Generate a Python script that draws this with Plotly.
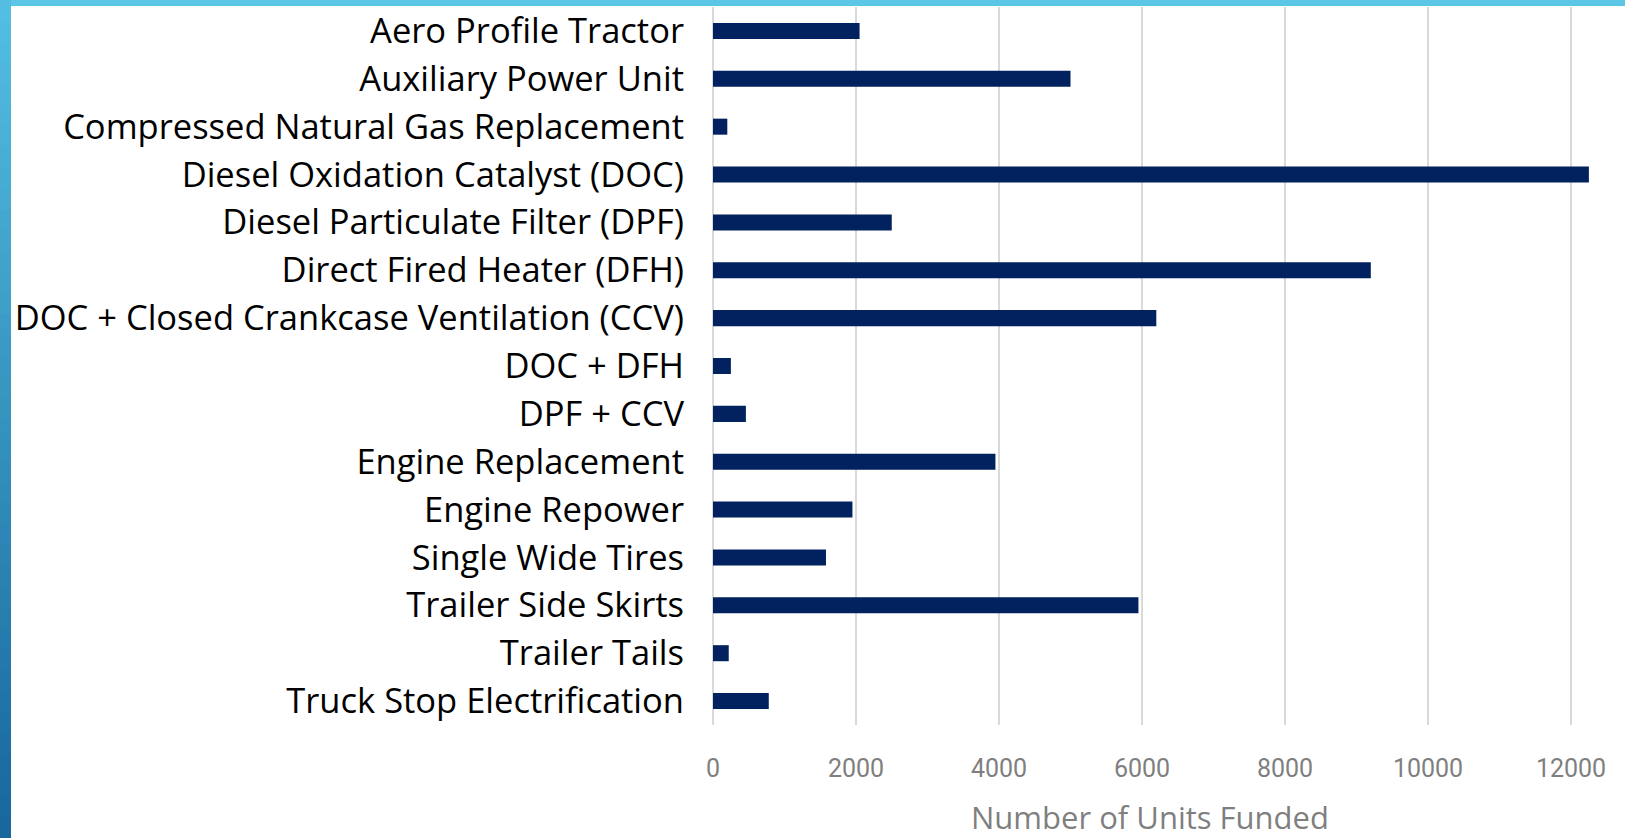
import plotly.graph_objects as go

# data
measures = [
    "Aero Profile Tractor",
    "Auxiliary Power Unit",
    "Compressed Natural Gas Replacement",
    "Diesel Oxidation Catalyst (DOC)",
    "Diesel Particulate Filter (DPF)",
    "Direct Fired Heater (DFH)",
    "DOC + Closed Crankcase Ventilation (CCV)",
    "DOC + DFH",
    "DPF + CCV",
    "Engine Replacement",
    "Engine Repower",
    "Single Wide Tires",
    "Trailer Side Skirts",
    "Trailer Tails",
    "Truck Stop Electrification",
]
units_funded = [2050, 5000, 200, 12250, 2500, 9200, 6200, 250, 460,
                3950, 1950, 1580, 5950, 220, 780]
x_ticks = [0, 2000, 4000, 6000, 8000, 10000, 12000]
x_title = "Number of Units Funded"

W, H = 1625, 838
L, R, T, B = 713, 0, 7, 113

fig = go.Figure(go.Bar(
    x=units_funded,
    y=measures,
    orientation="h",
    marker=dict(color="#02215f", line=dict(width=0)),
))

# slide frame: light blue band on top, gradient band on the left
pw, ph = W - L - R, H - T - B
def px_x(p):
    return (p - L) / pw
def px_y(p):
    return (H - B - p) / ph

shapes = [dict(type="rect", xref="paper", yref="paper",
               x0=px_x(0), x1=px_x(W), y0=px_y(0), y1=px_y(6),
               fillcolor="#5cc6e6", line_width=0, layer="above")]
top_rgb, bot_rgb = (84, 190, 226), (24, 104, 156)
n = 40
for i in range(n):
    t = i / (n - 1)
    c = tuple(int(a + (b - a) * t) for a, b in zip(top_rgb, bot_rgb))
    shapes.append(dict(type="rect", xref="paper", yref="paper",
                       x0=px_x(0), x1=px_x(11),
                       y0=px_y(H * i / n), y1=px_y(H * (i + 1) / n + 1),
                       fillcolor="rgb(%d,%d,%d)" % c, line_width=0, layer="above"))

fig.update_layout(
    width=W, height=H,
    margin=dict(l=L, r=R, t=T, b=B, pad=0),
    paper_bgcolor="white", plot_bgcolor="white",
    showlegend=False,
    bargap=0.665,
    shapes=shapes,
    font=dict(family="Open Sans, sans-serif"),
    annotations=[dict(
        text=x_title, xref="paper", yref="paper",
        x=px_x(1150), y=px_y(817), xanchor="center", yanchor="middle",
        showarrow=False,
        font=dict(family="Open Sans, sans-serif", size=31, color="#7f7f7f"),
    )],
)
fig.update_xaxes(
    range=[0, 12755],
    tickvals=x_ticks,
    ticktext=[str(v) for v in x_ticks],
    showgrid=True, gridcolor="#d9d9d9", gridwidth=1.5,
    zeroline=True, zerolinecolor="#d9d9d9", zerolinewidth=1.5,
    showline=False,
    ticks="", ticklabelstandoff=26,
    tickfont=dict(family="Roboto, sans-serif", size=25, color="#7f7f7f"),
)
fig.update_yaxes(
    autorange="reversed",
    showgrid=False, showline=False, ticks="",
    ticklabelstandoff=28,
    tickfont=dict(family="Open Sans, sans-serif", size=34.5, color="#000000"),
)

# drop the default page margin so the figure sits at the window's corner
fig.write_html("out.html", config={"displayModeBar": False},
               post_script="document.body.style.margin='0px';")
